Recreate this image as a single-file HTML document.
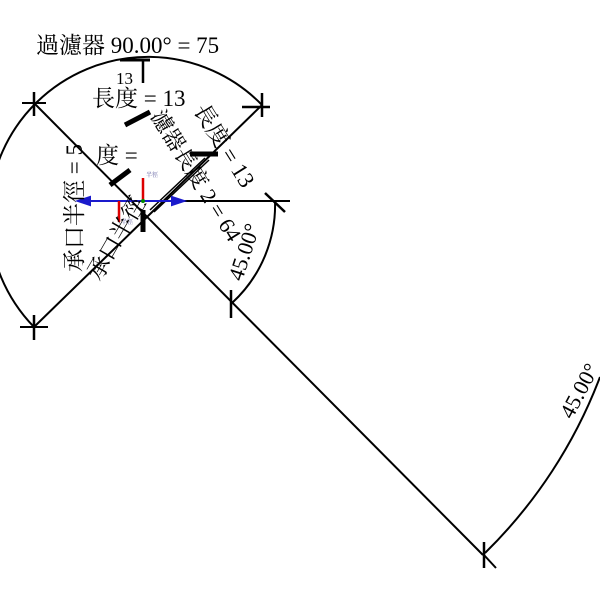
<!DOCTYPE html>
<html><head><meta charset="utf-8"><style>
html,body{margin:0;padding:0;background:#fff;}
svg{display:block;}
text{font-family:"Liberation Serif","Noto Serif CJK SC","Noto Sans CJK TC",serif;fill:#000;}
</style></head><body>
<svg width="600" height="600" viewBox="0 0 600 600" xmlns="http://www.w3.org/2000/svg">
<g stroke="#000" fill="none" stroke-width="2">
  <path d="M34,327 A158,158 0 1,1 262,105"/>
  <line x1="34" y1="103" x2="483" y2="555"/>
  <line x1="34" y1="327" x2="262" y2="105"/>
  <line x1="150" y1="201" x2="290" y2="201"/>
  <path d="M275,200 A133,133 0 0,1 232,303"/>
  <path d="M600,377 A490,490 0 0,1 485,553"/>
  <line x1="34" y1="92" x2="34" y2="116" stroke-width="2.5"/>
  <line x1="22" y1="103" x2="46" y2="103"/>
  <line x1="34" y1="315" x2="34" y2="340" stroke-width="2.5"/>
  <line x1="20" y1="327" x2="48" y2="327"/>
  <line x1="262" y1="93" x2="262" y2="117" stroke-width="2.5"/>
  <line x1="242" y1="107" x2="270" y2="107" stroke-width="2.5"/>
  <line x1="265" y1="193" x2="285" y2="212" stroke-width="2.5"/>
  <line x1="258" y1="201" x2="290" y2="201"/>
  <line x1="231" y1="290" x2="231" y2="318" stroke-width="2.5"/>
  <line x1="484" y1="542" x2="484" y2="568" stroke-width="2.5"/>
  <line x1="484" y1="555" x2="496" y2="568"/>
  <line x1="120" y1="60" x2="150" y2="60" stroke-width="3"/>
  <line x1="143" y1="60" x2="143" y2="83" stroke-width="2.5"/>
  <line x1="125" y1="125" x2="150" y2="112" stroke-width="5"/>
  <line x1="190" y1="154" x2="218" y2="154" stroke-width="5"/>
  <line x1="110" y1="185" x2="130" y2="170" stroke-width="5"/>
  <line x1="150" y1="210" x2="205" y2="158" stroke-width="1.5"/>
  <line x1="154" y1="212" x2="209" y2="160" stroke-width="1.5"/>
  <line x1="143" y1="210" x2="143" y2="232" stroke-width="5"/>
</g>
<g stroke="#1a1acc" stroke-width="2" fill="#1a1acc">
  <line x1="85" y1="201" x2="143" y2="201"/>
  <polygon points="78,201 90,197 90,205"/>
  <line x1="143" y1="201" x2="178" y2="201"/>
  <polygon points="184,201 172,197 172,205"/>
</g>
<g stroke="#d00" stroke-width="2.5">
  <line x1="143" y1="178" x2="143" y2="201"/>
  <line x1="119" y1="201" x2="119" y2="222"/>
</g>
<circle cx="143" cy="201" r="2" fill="#080"/>
<text x="146" y="177" font-size="6" style="fill:#559">半徑</text>
<text x="121" y="224" font-size="6" style="fill:#559">半徑</text>
<text x="36" y="53" font-size="23" transform="scale(1,1)">過濾器 90.00° = 75</text>
<text x="116" y="84" font-size="17">13</text>
<text x="92" y="106" font-size="23">長度 = 13</text>
<text x="96" y="163" font-size="23">度 = </text>
<text transform="translate(193,110) rotate(58)" font-size="23">長度 = 13</text>
<text transform="translate(150,116) rotate(58)" font-size="22">濾器長度 2 = 64</text>
<text transform="translate(82,272) rotate(-90)" font-size="23">承口半徑 = 5</text>
<text transform="translate(100,282) rotate(-60)" font-size="23">承口半徑</text>
<text transform="translate(242,282) rotate(-72)" font-size="22">45.00°</text>
<text transform="translate(572,420) rotate(-62)" font-size="22">45.00°</text>
</svg>
</body></html>
